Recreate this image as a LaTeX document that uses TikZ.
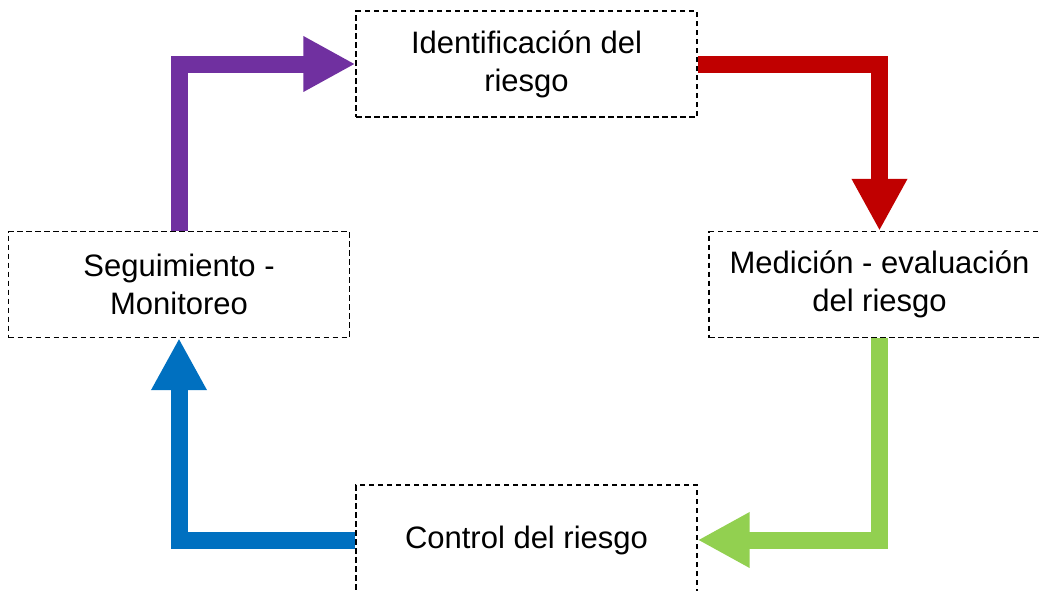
\documentclass[tikz,border=0pt]{standalone}
\usepackage{fontspec}
\setmainfont{Liberation Sans}
\usetikzlibrary{arrows.meta}
\definecolor{cpurple}{HTML}{7030A0}
\definecolor{cred}{HTML}{C00000}
\definecolor{cgreen}{HTML}{92D050}
\definecolor{cblue}{HTML}{0070C0}
\begin{document}
\begin{tikzpicture}[x=1pt,y=-1pt,
  box/.style={draw=black,line width=1.4pt,dash pattern=on 5.5pt off 3.5pt,
    minimum width=341pt,minimum height=106pt,inner sep=0pt,align=center,
    font=\fontsize{31}{38}\selectfont},
  flow/.style={line width=17pt,line join=miter,
    -{Triangle[length=52pt,width=52pt]}}]
\useasboundingbox (0,0) rectangle (1039,590);
\node[box] (ident) at (526.5,64) {Identificación del\\riesgo};
\node[box] (seg) at (179,284.5) {Seguimiento -\\Monitoreo};
\node[box] (med) at (879.5,284.5) {Medición - evaluación\\del riesgo};
\node[box,minimum height=110pt] (ctrl) at (526.5,540) {Control del riesgo};
\draw[flow,cpurple] (seg.north) |- (ident.west);
\draw[flow,cred] (ident.east) -| (med.north);
\draw[flow,cgreen] (med.south) |- (ctrl.east);
\draw[flow,cblue] (ctrl.west) -| (seg.south);
\end{tikzpicture}
\end{document}
